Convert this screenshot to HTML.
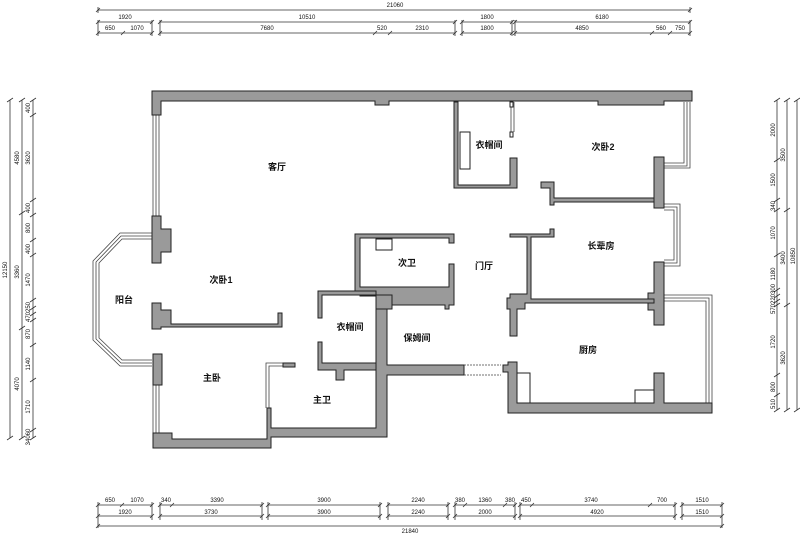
<!DOCTYPE html>
<html><head><meta charset="utf-8"><style>
html,body{margin:0;padding:0;background:#fff;}
svg{display:block;}
text{font-family:"Liberation Sans","Noto Sans CJK SC",sans-serif;fill:#111;}
.d text{font-size:6px;text-anchor:middle;}
.r{font-size:9px;font-weight:bold;text-anchor:middle;}
.w{fill:#9a9a9a;stroke:#222;stroke-width:1;}
.t{fill:#fff;stroke:#222;stroke-width:1;}
.g{fill:none;stroke:#444;stroke-width:0.8;}
.d line,.d path{stroke:#333;stroke-width:0.8;fill:none;}
</style></head><body>
<svg width="800" height="536" viewBox="0 0 800 536" xmlns="http://www.w3.org/2000/svg">
<!-- TOP DIMENSIONS -->
<g class="d">
<line x1="98" y1="10" x2="690" y2="10"/><path d="M96 12l4-4M688 12l4-4M98 7v6M690 7v6"/>
<text x="395" y="7">21060</text>
<line x1="98" y1="22" x2="152" y2="22"/><line x1="160" y1="22" x2="455" y2="22"/><line x1="462" y1="22" x2="512" y2="22"/><line x1="515" y1="22" x2="690" y2="22"/>
<path d="M96 24l4-4M150 24l4-4M158 24l4-4M453 24l4-4M460 24l4-4M510 24l4-4M513 24l4-4M688 24l4-4"/>
<text x="125" y="19">1920</text><text x="307" y="19">10510</text><text x="487" y="19">1800</text><text x="602" y="19">6180</text>
<line x1="98" y1="33" x2="152" y2="33"/><line x1="160" y1="33" x2="455" y2="33"/><line x1="462" y1="33" x2="512" y2="33"/><line x1="515" y1="33" x2="690" y2="33"/>
<path d="M96 35l4-4M121 35l4-4M150 35l4-4M158 35l4-4M373 35l4-4M388 35l4-4M453 35l4-4M460 35l4-4M510 35l4-4M513 35l4-4M650 35l4-4M668 35l4-4M688 35l4-4"/>
<path d="M98 20v16M152 20v16M160 20v16M455 20v16M462 20v16M512 20v16M515 20v16M690 20v16"/>
<text x="110" y="30">650</text><text x="137" y="30">1070</text><text x="267" y="30">7680</text><text x="382" y="30">520</text><text x="422" y="30">2310</text><text x="487" y="30">1800</text><text x="582" y="30">4850</text><text x="661" y="30">560</text><text x="680" y="30">750</text>
</g>
<!-- BOTTOM DIMENSIONS -->
<g class="d">
<line x1="98" y1="505" x2="152" y2="505"/><line x1="160" y1="505" x2="262" y2="505"/><line x1="268" y1="505" x2="380" y2="505"/><line x1="388" y1="505" x2="448" y2="505"/><line x1="455" y1="505" x2="515" y2="505"/><line x1="520" y1="505" x2="675" y2="505"/><line x1="682" y1="505" x2="722" y2="505"/>
<path d="M96 507l4-4M120 507l4-4M150 507l4-4M158 507l4-4M170 507l4-4M260 507l4-4M266 507l4-4M378 507l4-4M386 507l4-4M446 507l4-4M453 507l4-4M463 507l4-4M503 507l4-4M513 507l4-4M518 507l4-4M530 507l4-4M648 507l4-4M673 507l4-4M680 507l4-4M720 507l4-4"/>
<text x="110" y="502">650</text><text x="137" y="502">1070</text><text x="166" y="502">340</text><text x="217" y="502">3390</text><text x="324" y="502">3900</text><text x="418" y="502">2240</text><text x="460" y="502">380</text><text x="485" y="502">1360</text><text x="510" y="502">380</text><text x="526" y="502">450</text><text x="591" y="502">3740</text><text x="662" y="502">700</text><text x="702" y="502">1510</text>
<line x1="98" y1="516" x2="152" y2="516"/><line x1="160" y1="516" x2="262" y2="516"/><line x1="268" y1="516" x2="380" y2="516"/><line x1="388" y1="516" x2="448" y2="516"/><line x1="455" y1="516" x2="515" y2="516"/><line x1="520" y1="516" x2="675" y2="516"/><line x1="682" y1="516" x2="722" y2="516"/>
<path d="M96 518l4-4M150 518l4-4M158 518l4-4M260 518l4-4M266 518l4-4M378 518l4-4M386 518l4-4M446 518l4-4M453 518l4-4M513 518l4-4M518 518l4-4M673 518l4-4M680 518l4-4M720 518l4-4"/>
<text x="125" y="514">1920</text><text x="211" y="514">3730</text><text x="324" y="514">3900</text><text x="418" y="514">2240</text><text x="485" y="514">2000</text><text x="597" y="514">4920</text><text x="702" y="514">1510</text>
<path d="M98 502v26M152 502v18M160 502v18M262 502v18M268 502v18M380 502v18M388 502v18M448 502v18M455 502v18M515 502v18M520 502v18M675 502v18M682 502v18M722 502v26"/>
<line x1="98" y1="526" x2="722" y2="526"/><path d="M96 528l4-4M720 528l4-4"/>
<text x="410" y="533">21840</text>
</g>
<!-- LEFT DIMENSIONS -->
<g class="d">
<line x1="10" y1="100" x2="10" y2="438"/><line x1="22" y1="100" x2="22" y2="438"/><line x1="33" y1="100" x2="33" y2="438"/>
<path d="M7 102l6-4M7 440l6-4M19 102l6-4M19 215l6-4M19 330l6-4M19 440l6-4M30 102l6-4M30 117l6-4M30 202l6-4M30 217l6-4M30 242l6-4M30 257l6-4M30 302l6-4M30 310l6-4M30 316l6-4M30 322l6-4M30 347l6-4M30 382l6-4M30 432l6-4M30 440l6-4"/>
<text transform="translate(7,270) rotate(-90)">12150</text>
<text transform="translate(19,158) rotate(-90)">4580</text>
<text transform="translate(19,272) rotate(-90)">3360</text>
<text transform="translate(19,384) rotate(-90)">4070</text>
<text transform="translate(30,108) rotate(-90)">400</text>
<text transform="translate(30,158) rotate(-90)">3620</text>
<text transform="translate(30,208) rotate(-90)">400</text>
<text transform="translate(30,228) rotate(-90)">800</text>
<text transform="translate(30,249) rotate(-90)">400</text>
<text transform="translate(30,280) rotate(-90)">1470</text>
<text transform="translate(30,312) rotate(-90)">470250</text>
<text transform="translate(30,334) rotate(-90)">870</text>
<text transform="translate(30,364) rotate(-90)">1140</text>
<text transform="translate(30,407) rotate(-90)">1710</text>
<text transform="translate(30,437) rotate(-90)">34060</text>
</g>
<!-- RIGHT DIMENSIONS -->
<g class="d">
<line x1="777" y1="100" x2="777" y2="410"/><line x1="787" y1="100" x2="787" y2="410"/><line x1="797" y1="100" x2="797" y2="410"/>
<path d="M774 102l6-4M774 162l6-4M774 202l6-4M774 212l6-4M774 257l6-4M774 292l6-4M774 298l6-4M774 303l6-4M774 307l6-4M774 377l6-4M774 397l6-4M774 412l6-4M784 102l6-4M784 212l6-4M784 307l6-4M784 412l6-4M794 102l6-4M794 412l6-4"/>
<text transform="translate(775,130) rotate(-90)">2000</text>
<text transform="translate(775,180) rotate(-90)">1500</text>
<text transform="translate(775,206) rotate(-90)">340</text>
<text transform="translate(775,233) rotate(-90)">1070</text>
<text transform="translate(775,274) rotate(-90)">1180</text>
<text transform="translate(775,299) rotate(-90)">570220300</text>
<text transform="translate(775,342) rotate(-90)">1720</text>
<text transform="translate(775,387) rotate(-90)">800</text>
<text transform="translate(775,404) rotate(-90)">510</text>
<text transform="translate(785,155) rotate(-90)">3500</text>
<text transform="translate(785,258) rotate(-90)">3400</text>
<text transform="translate(785,358) rotate(-90)">3620</text>
<text transform="translate(795,256) rotate(-90)">10850</text>
</g>
<!-- WINDOWS -->
<g class="g">
<path d="M153 115v101M156 115v101M159 115v101"/>
<path d="M152 233H120L93 261V340L120 366H152"/>
<path d="M152 236H121L96 262V339L121 363H152"/>
<path d="M152 239H122L99 263V338L122 360H152"/>
<path d="M153 385v49M156 385v49M159 385v49"/>
<path d="M684 102v61H664M687 102v64H664M690 102v66H664"/>
<path d="M664 204h16v62h-16M664 207h13v56h-13M664 210h10v50h-10"/>
<path d="M664 295h48v108M664 298h45v105M664 301h42v102"/>
<path d="M266 408v-45h29M269 408v-42h14"/>
<path d="M511 102v30M514 102v30"/>
<path d="M464 365h37M464 375h37" stroke-dasharray="2,1"/>
</g>
<!-- WALLS -->
<g class="w">
<path d="M152 91H692V101H664V105H598V101H389V105H375V101H161V115H152Z"/>
<path d="M152 216H161V229H171V252H161V263H152Z"/>
<path d="M152 303H161V310H171V324H278V313H282V327H161V329H152Z"/>
<path d="M153 354H162V385H153Z"/>
<path d="M153 433H172V439H267V408H271V428H376V309H387V365H464V375H387V437H271V448H153Z"/>
<path d="M654 157H664V208H654Z"/>
<path d="M654 262H664V325H654V310H648V293H654Z"/>
<path d="M508 362H517V403H654V373H664V403H712V413H508V372H503V365H508Z"/>
<path d="M454 102H458V185H510V158H517V188H454Z"/>
<path d="M541 182H554V198H654V202H554V205H550V188H541Z"/>
<path d="M510 234H550V229H554V237H531V299H654V303H525V309H517V336H510V309H507V298H510V294H527V237H510Z"/>
<path d="M355 234H454V243H449V238H360V287H449V264H454V305H449V309H445V305H392V296H360V291H355Z"/>
<path d="M318 291H376V295H322V318H318Z"/>
<path d="M318 342H322V363H376V370H344V380H336V370H318Z"/>
<path d="M376 295H392V309H376Z"/>
<path d="M283 363H295V367H283Z"/>
</g>
<g class="t">
<rect x="460" y="132" width="10" height="37"/>
<rect x="376" y="239" width="16" height="11"/>
<rect x="517" y="373" width="13" height="30"/>
<rect x="635" y="390" width="19" height="13"/>
<rect x="510" y="102" width="3" height="5"/>
<rect x="510" y="132" width="3" height="5"/>
</g>
<!-- LABELS -->
<text class="r" x="277" y="170">客厅</text>
<text class="r" x="489" y="148">衣帽间</text>
<text class="r" x="603" y="150">次卧2</text>
<text class="r" x="601" y="249">长辈房</text>
<text class="r" x="407" y="266">次卫</text>
<text class="r" x="484" y="269">门厅</text>
<text class="r" x="221" y="283">次卧1</text>
<text class="r" x="124" y="303">阳台</text>
<text class="r" x="350" y="330">衣帽间</text>
<text class="r" x="417" y="341">保姆间</text>
<text class="r" x="588" y="353">厨房</text>
<text class="r" x="212" y="381">主卧</text>
<text class="r" x="322" y="403">主卫</text>
</svg>
</body></html>
